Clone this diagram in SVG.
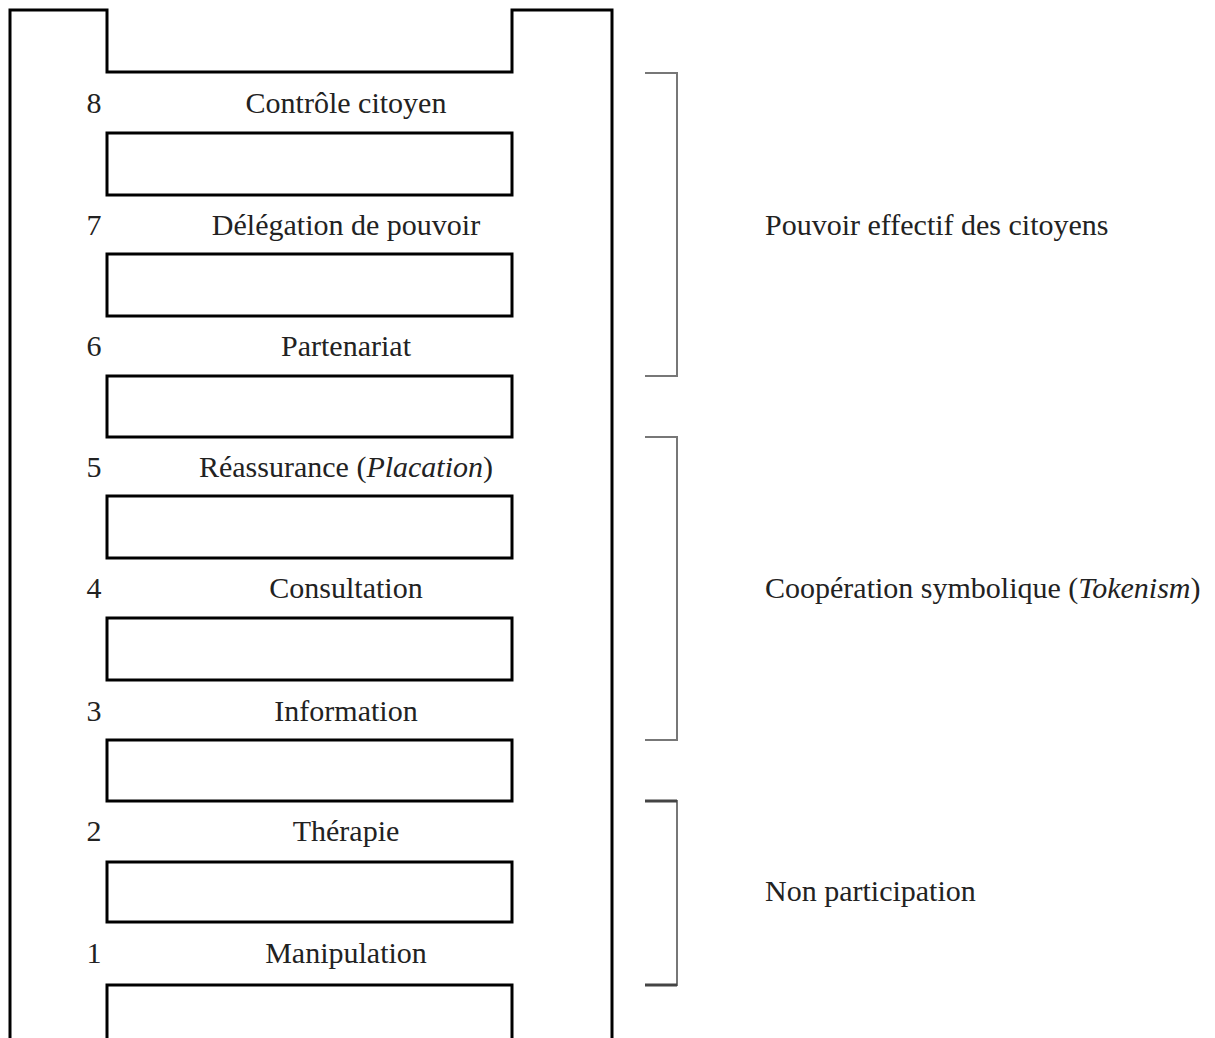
<svg xmlns="http://www.w3.org/2000/svg" width="1215" height="1038" viewBox="0 0 1215 1038">
<style>
.l{fill:none;stroke:#000;stroke-width:3}
.b{fill:none;stroke:#777;stroke-width:2}
.t{stroke:#444;stroke-width:3}
text{font-family:"Liberation Serif","Times New Roman",serif;font-size:30px;fill:#222}
.c{text-anchor:middle}
</style>
<rect width="1215" height="1038" fill="#fff"/>
<g id="frame">
<path class="l" d="M10,1040 V10 H107 V72 H512 V10 H612 V1040"/>
</g>
<g id="rungs">
<rect class="l" x="107" y="133" width="405" height="62"/>
<rect class="l" x="107" y="254" width="405" height="62"/>
<rect class="l" x="107" y="376" width="405" height="61"/>
<rect class="l" x="107" y="496" width="405" height="62"/>
<rect class="l" x="107" y="618" width="405" height="62"/>
<rect class="l" x="107" y="740" width="405" height="61"/>
<rect class="l" x="107" y="862" width="405" height="60"/>
<path class="l" d="M107,1040 V985 H512 V1040"/>
</g>
<g id="step8"><text x="94" y="113" class="c">8</text><text x="346" y="113" class="c">Contrôle citoyen</text></g>
<g id="step7"><text x="94" y="235" class="c">7</text><text x="346" y="235" class="c">Délégation de pouvoir</text></g>
<g id="step6"><text x="94" y="356" class="c">6</text><text x="346" y="356" class="c">Partenariat</text></g>
<g id="step5"><text x="94" y="477" class="c">5</text><text x="346" y="477" class="c">Réassurance (<tspan font-style="italic">Placation</tspan>)</text></g>
<g id="step4"><text x="94" y="598" class="c">4</text><text x="346" y="598" class="c">Consultation</text></g>
<g id="step3"><text x="94" y="721" class="c">3</text><text x="346" y="721" class="c">Information</text></g>
<g id="step2"><text x="94" y="841" class="c">2</text><text x="346" y="841" class="c">Thérapie</text></g>
<g id="step1"><text x="94" y="963" class="c">1</text><text x="346" y="963" class="c">Manipulation</text></g>
<g id="connectors">
<path class="b" d="M645,73 H677 V376 H645"/>
<path class="b" d="M645,437 H677 V740 H645"/>
<path class="b" d="M645,801 H677 V985 H645"/>
<path class="t" d="M645,801 H677 M645,985 H677"/>
</g>
<g id="group-power"><text x="765" y="235">Pouvoir effectif des citoyens</text></g>
<g id="group-tokenism"><text x="765" y="598">Coopération symbolique (<tspan font-style="italic">Tokenism</tspan>)</text></g>
<g id="group-non"><text x="765" y="901">Non participation</text></g>
</svg>
